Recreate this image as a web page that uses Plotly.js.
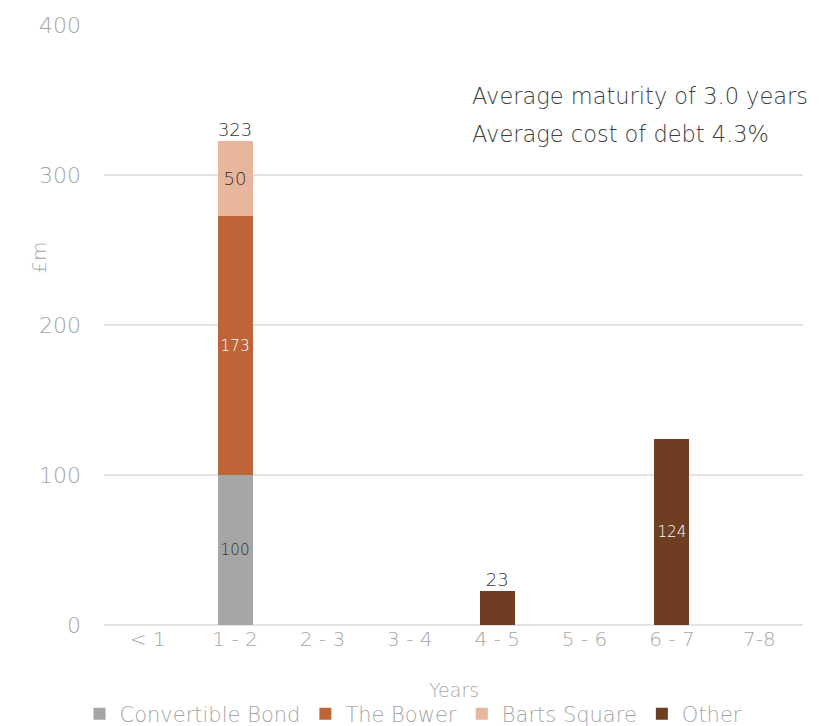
<!DOCTYPE html>
<html>
<head>
<meta charset="utf-8">
<script src="https://cdn.plot.ly/plotly-3.0.1.min.js"></script>
<style>
  html, body { margin: 0; padding: 0; background: #ffffff; }
  #chart { width: 827px; height: 726px; }
</style>
</head>
<body>
<div id="chart"></div>
<script>
// Debt maturity profile, £m by years to maturity
const categories = ['< 1', '1 - 2', '2 - 3', '3 - 4', '4 - 5', '5 - 6', '6 - 7', '7-8'];
const convertibleBond = [null, 100, null, null, null, null, null, null];
const theBower        = [null, 173, null, null, null, null, null, null];
const bartsSquare     = [null, 50,  null, null, null, null, null, null];
const other           = [null, null, null, null, 23, null, 124, null];
// categories whose stack total is written above the bar
const totalLabelCats = ['1 - 2', '4 - 5'];
const noteLines = ['Average maturity of 3.0 years', 'Average cost of debt 4.3%'];

const FONT = 'DejaVu Sans, sans-serif';
const GREY_TEXT = '#a6a6a6';
const DARK_TEXT = '#404040';

function barTrace(name, values, color, textColor) {
  // a lone segment already carries its total above it, so skip the inner label there
  const text = values.map((v, i) => {
    if (v == null) return '';
    const segs = [convertibleBond, theBower, bartsSquare, other].filter(a => a[i] != null).length;
    if (segs === 1 && totalLabelCats.includes(categories[i])) return '';
    return String(v);
  });
  return {
    type: 'bar',
    name: name,
    x: categories,
    y: values,
    marker: { color: color, line: { width: 0 } },
    text: text,
    textposition: 'inside',
    insidetextanchor: 'middle',
    textangle: 0,
    insidetextfont: { family: FONT, size: 18, color: textColor, weight: 300 },
    hoverinfo: 'x+y+name'
  };
}

const series = [
  barTrace('Convertible Bond', convertibleBond, '#a6a6a6', '#333333'),
  barTrace('The Bower', theBower, '#bd6439', '#ffffff'),
  barTrace('Barts Square', bartsSquare, '#e7b69d', '#333333'),
  barTrace('Other', other, '#6f3d22', '#ffffff')
];

// stack totals
const totals = categories.map((c, i) =>
  [convertibleBond, theBower, bartsSquare, other].reduce((s, arr) => s + (arr[i] || 0), 0));
const totalX = [], totalY = [];
categories.forEach((c, i) => {
  if (totalLabelCats.includes(c)) { totalX.push(c); totalY.push(totals[i]); }
});
series.push({
  type: 'scatter',
  mode: 'text',
  x: totalX,
  y: totalY,
  text: totalY.map(String),
  textposition: 'top center',
  textfont: { family: FONT, size: 18, color: '#333333', weight: 300 },
  showlegend: false,
  hoverinfo: 'skip',
  cliponaxis: false
});

const layout = {
  width: 827,
  height: 726,
  margin: { l: 104, r: 24, t: 25, b: 101, autoexpand: false },
  paper_bgcolor: '#ffffff',
  plot_bgcolor: '#ffffff',
  barmode: 'stack',
  bargap: 0.6,
  font: { family: FONT, color: GREY_TEXT, weight: 300 },
  xaxis: {
    type: 'category',
    showgrid: false,
    showline: false,
    zeroline: false,
    ticks: '',
    automargin: false,
    tickfont: { family: FONT, size: 20, color: GREY_TEXT, weight: 300 }
  },
  yaxis: {
    range: [0, 400],
    dtick: 100,
    showgrid: true,
    gridcolor: '#e3e3e3',
    gridwidth: 1.5,
    zeroline: true,
    zerolinecolor: '#e3e3e3',
    zerolinewidth: 1.5,
    showline: false,
    ticks: '',
    automargin: false,
    ticklabelstandoff: 22,
    tickfont: { family: FONT, size: 22, color: GREY_TEXT, weight: 300 }
  },
  legend: {
    orientation: 'h',
    x: 0.5,
    xanchor: 'center',
    xref: 'container',
    yref: 'container',
    y: 0.0165,
    yanchor: 'middle',
    font: { family: FONT, size: 21, color: GREY_TEXT, weight: 300 },
    itemwidth: 30,
    traceorder: 'normal'
  },
  annotations: [
    {
      xref: 'paper', yref: 'paper', x: -0.113, y: 0.612,
      text: '£m', textangle: -90, showarrow: false,
      font: { family: FONT, size: 20, color: GREY_TEXT, weight: 300 }
    },
    {
      xref: 'paper', yref: 'paper', x: 0.5, y: -0.108, yanchor: 'middle',
      text: 'Years', showarrow: false,
      font: { family: FONT, size: 19, color: GREY_TEXT, weight: 300 }
    },
    {
      xref: 'paper', yref: 'y', x: 0.523, y: 352.7, xanchor: 'left',
      text: noteLines[0], showarrow: false,
      font: { family: FONT, size: 22.5, color: DARK_TEXT, weight: 300 }
    },
    {
      xref: 'paper', yref: 'y', x: 0.523, y: 327.3, xanchor: 'left',
      text: noteLines[1], showarrow: false,
      font: { family: FONT, size: 22.5, color: DARK_TEXT, weight: 300 }
    }
  ]
};

Plotly.newPlot('chart', series, layout, { displayModeBar: false, staticPlot: true });
</script>
</body>
</html>
